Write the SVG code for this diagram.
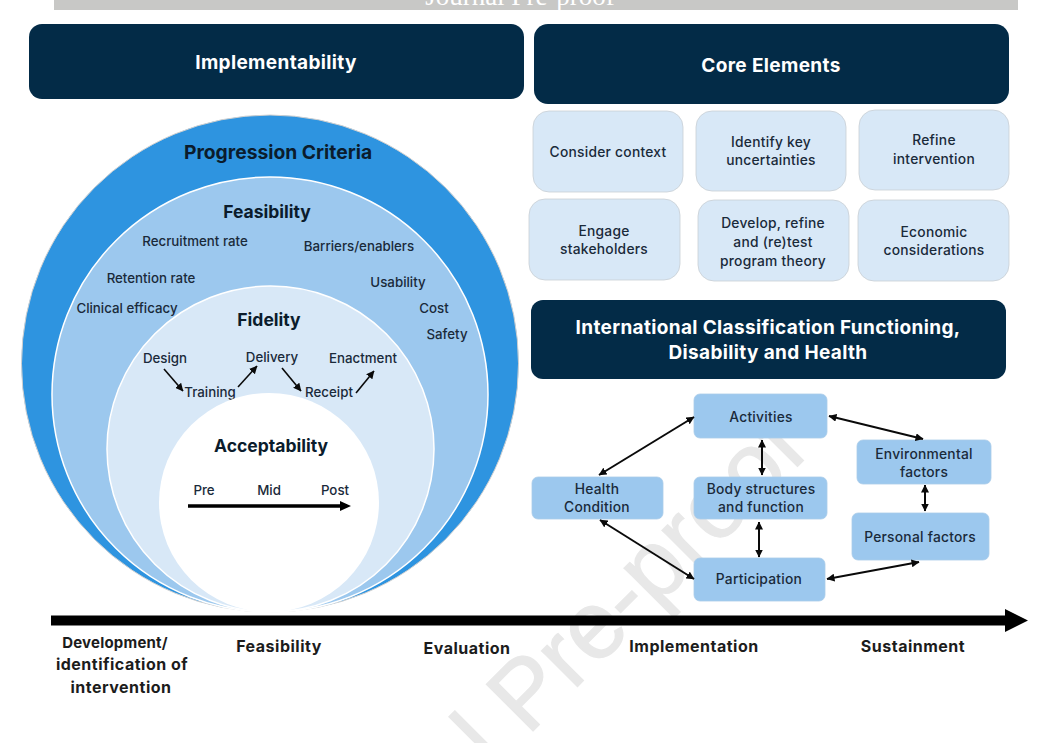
<svg xmlns="http://www.w3.org/2000/svg" width="1053" height="743" viewBox="0 0 1053 743">
<defs>
<marker id="h" markerWidth="8" markerHeight="8" refX="7.500" refY="4" orient="auto-start-reverse" markerUnits="userSpaceOnUse"><path d="M0 0L8 4L0 8Z" fill="#0a0a0a"/></marker>
</defs>
<style>
text{font-family:"Inter","Liberation Sans",sans-serif;text-anchor:middle;fill:#1a2a3a;font-size:13.3px;font-weight:500}
.s{transform:translateY(1px)}
.b{font-size:13.800px;letter-spacing:.25px;transform:translateY(1px)}
.hd{fill:#fff;font-weight:700;font-size:19px;letter-spacing:.35px;transform:translateY(.6px)}
.nv{fill:#032b47}
.lt{fill:#d8e8f7;stroke:#c9cfd4;stroke-width:.8}
.md{fill:#9cc8ee;stroke:#a9cbe8;stroke-width:.8}
.ct{fill:#0b1c2c;font-weight:700;font-size:17.5px}
.tl{fill:#1c1c1c;font-weight:700;font-size:16px;letter-spacing:.5px}
.c{stroke:#0a0a0a;stroke-width:2;fill:none;marker-start:url(#h);marker-end:url(#h)}
.o{stroke:#0a0a0a;stroke-width:1.6;fill:none;marker-end:url(#h)}
</style>
<rect width="1053" height="743" fill="#fff"/>
<text x="-341" y="0" transform="translate(527,737) rotate(-45)" style="text-anchor:start;fill:#e8e8e8;stroke:#e8e8e8;stroke-width:1.200px;font-size:96px;font-weight:400;font-family:'Liberation Sans',sans-serif">Journal Pre-proof</text>
<g id="journal-bar"><rect x="54" y="-2" width="964" height="12" fill="#c8c8c6"/><text x="520" y="5" style="font-family:'Liberation Serif',serif;font-size:27px;font-weight:400;fill:#fff">Journal Pre-proof</text></g>
<g id="implementability"><rect class="nv" x="29" y="24" width="495" height="75" rx="13"/><text class="hd" x="276" y="68">Implementability</text></g>
<g id="core-elements"><rect class="nv" x="534" y="24" width="475" height="80" rx="14"/><text class="hd" x="771" y="71">Core Elements</text></g>
<g id="progression-criteria"><circle cx="270" cy="363.500" r="248.500" fill="#2e94e0" stroke="#d0d0d0"/><text class="ct" x="278" y="159" style="font-size:19.300px">Progression Criteria</text></g>
<g id="feasibility-circle"><ellipse cx="270" cy="394.500" rx="218" ry="217.500" fill="#9cc8ee" stroke="#fff" stroke-width="1.500"/><text class="ct" x="267" y="218">Feasibility</text>
<text class="s" x="195" y="245">Recruitment rate</text><text class="s" x="359" y="250">Barriers/enablers</text><text class="s" x="151" y="282">Retention rate</text><text class="s" x="398" y="286">Usability</text><text class="s" x="127" y="312">Clinical efficacy</text><text class="s" x="434" y="312">Cost</text><text class="s" x="447" y="338">Safety</text></g>
<g id="fidelity-circle"><ellipse cx="270.500" cy="449" rx="163.500" ry="163" fill="#d8e8f7" stroke="#fff" stroke-width="1.500"/><text class="ct" x="269" y="326">Fidelity</text>
<text class="s" x="165" y="362">Design</text><text class="s" x="272" y="361">Delivery</text><text class="s" x="363" y="362">Enactment</text><text class="s" x="210" y="396">Training</text><text class="s" x="329" y="396">Receipt</text></g>
<g id="acceptability-circle"><ellipse cx="269" cy="502.500" rx="110" ry="109.500" fill="#fff"/><text class="ct" x="271" y="452">Acceptability</text>
<text x="204" y="495">Pre</text><text x="269" y="495">Mid</text><text x="335" y="495">Post</text></g>
<g id="ce1"><rect class="lt" x="533" y="111" width="150" height="81" rx="16"/><text class="b" x="608" y="156">Consider context</text></g>
<g id="ce2"><rect class="lt" x="696" y="111" width="150" height="80" rx="16"/><text class="b" x="771" y="146">Identify key</text><text class="b" x="771" y="164">uncertainties</text></g>
<g id="ce3"><rect class="lt" x="859" y="110" width="150" height="80" rx="16"/><text class="b" x="934" y="144">Refine</text><text class="b" x="934" y="163">intervention</text></g>
<g id="ce4"><rect class="lt" x="529" y="199" width="151" height="81" rx="16"/><text class="b" x="604" y="235">Engage</text><text class="b" x="604" y="253">stakeholders</text></g>
<g id="ce5"><rect class="lt" x="698" y="200" width="151" height="81" rx="16"/><text class="b" x="773" y="227">Develop, refine</text><text class="b" x="773" y="246">and (re)test</text><text class="b" x="773" y="265">program theory</text></g>
<g id="ce6"><rect class="lt" x="858" y="200" width="151" height="81" rx="16"/><text class="b" x="934" y="236">Economic</text><text class="b" x="934" y="254">considerations</text></g>
<g id="icf-header"><rect class="nv" x="531" y="300" width="475" height="79" rx="12"/><text class="hd" x="768" y="333">International Classification Functioning,</text><text class="hd" x="768" y="358">Disability and Health</text></g>
<g id="activities"><rect class="md" x="694" y="394" width="133" height="44" rx="6"/><text class="b" x="761" y="421">Activities</text></g>
<g id="health-condition"><rect class="md" x="532" y="477" width="131" height="42" rx="6"/><text class="b" x="597" y="493">Health</text><text class="b" x="597" y="511">Condition</text></g>
<g id="body-structures"><rect class="md" x="694" y="477" width="133" height="42" rx="6"/><text class="b" x="761" y="493">Body structures</text><text class="b" x="761" y="511">and function</text></g>
<g id="participation"><rect class="md" x="694" y="558" width="131" height="43" rx="6"/><text class="b" x="759" y="583">Participation</text></g>
<g id="environmental-factors"><rect class="md" x="857" y="440" width="134" height="44" rx="6"/><text class="b" x="924" y="458">Environmental</text><text class="b" x="924" y="476">factors</text></g>
<g id="personal-factors"><rect class="md" x="852" y="513" width="137" height="47" rx="6"/><text class="b" x="920" y="541">Personal factors</text></g>
<g id="connectors">
<path class="c" d="M599 475L694 417"/><path class="c" d="M600 520L694 579"/><path class="c" d="M762 440V475"/><path class="c" d="M759 522V557"/><path class="c" d="M829 416L923 439"/><path class="c" d="M925 485V511"/><path class="c" d="M827 579L919 562"/>
<path class="o" d="M164 369L183 391"/><path class="o" d="M238 387L257 366"/><path class="o" d="M282 368L301 391"/><path class="o" d="M356 393L374 371"/>
<path d="M188 504.300H340V501L351 506L340 511V507.700H188Z" fill="#000"/>
<path d="M51 615.500H1005V609L1028 620.500L1005 632V625.500H51Z" fill="#000"/>
</g>
<g id="stage-labels"><text class="tl" x="115" y="648" style="font-size:15px;letter-spacing:.2px">Development/</text><text class="tl" x="122" y="670">identification of</text><text class="tl" x="121" y="693">intervention</text><text class="tl" x="279" y="652">Feasibility</text><text class="tl" x="467" y="654">Evaluation</text><text class="tl" x="694" y="652">Implementation</text><text class="tl" x="913" y="652">Sustainment</text></g>
</svg>
